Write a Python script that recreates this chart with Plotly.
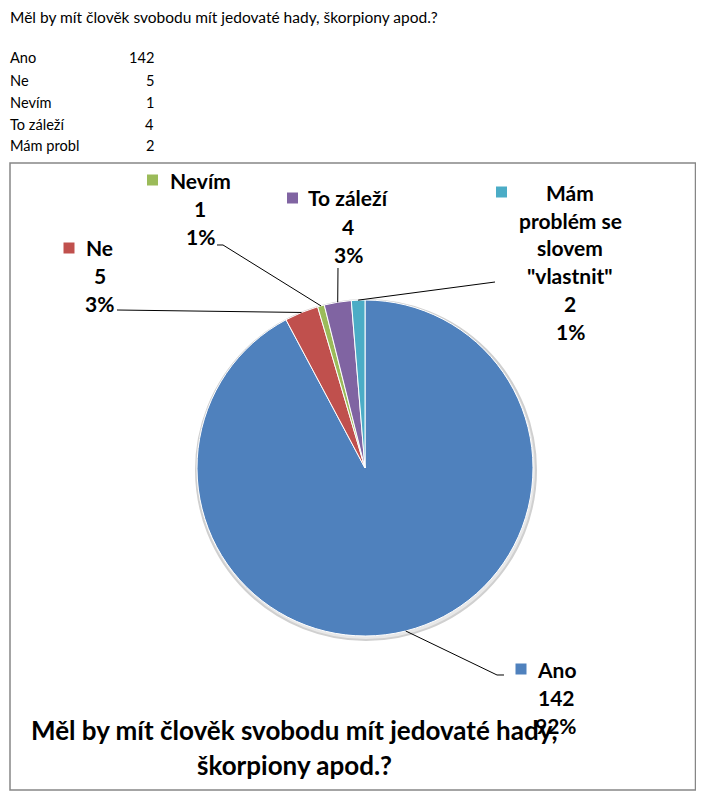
import math
import plotly.graph_objects as go

# ---------------- data ----------------
question = "Měl by mít člověk svobodu mít jedovaté hady, škorpiony apod.?"
table_labels = ["Ano", "Ne", "Nevím", "To záleží", "Mám probl"]
categories = ["Ano", "Ne", "Nevím", "To záleží", "Mám problém se slovem \"vlastnit\""]
values = [142, 5, 1, 4, 2]
label_names = [["Ano"], ["Ne"], ["Nevím"], ["To záleží"],
               ["Mám", "problém se", "slovem", "\"vlastnit\""]]
colors = ["#4F81BD", "#C0504D", "#9BBB59", "#8064A2", "#4BACC6"]
chart_title_lines = ["Měl by mít člověk svobodu mít jedovaté hady,", "škorpiony apod.?"]

# ---------------- layout (page pixel space) ----------------
OFF = 8            # default body margin of the page
FW, FH = 688, 783  # figure size
CX, CY, R = 365, 468, 168
FONT = "Lato"

def px(x):
    return (x - OFF) / FW

def py(y):
    return 1 - (y - OFF) / FH

# label block positions: centre x, first line y, marker x, line spacing
label_pos = [
    (556, 669, 521, 28),
    (100, 248, 69, 27.5),
    (200, 180, 152.5, 28.5),
    (348, 198, 292.5, 28.5),
    (570, 192, 501.5, 28),
]
# leader line start points (label side)
leader_start = [
    [(504, 675), (497, 675)],
    [(117, 310)],
    [(217, 245), (223, 245)],
    [(338, 268)],
    [(495, 282)],
]

total = sum(values)
pcts = [round(v / total * 100) for v in values]

fig = go.Figure()
fig.add_trace(go.Pie(
    labels=categories,
    values=values,
    sort=False,
    direction="clockwise",
    rotation=0,
    marker=dict(colors=colors, line=dict(color="white", width=1)),
    textinfo="none",
    hoverinfo="label+value+percent",
    showlegend=False,
    domain=dict(x=[px(CX - R), px(CX + R)], y=[py(CY + R), py(CY - R)]),
))

annotations = []
shapes = []

# chart area border
shapes.append(dict(type="rect", xref="paper", yref="paper",
                   x0=px(10), x1=px(695.5), y0=py(790), y1=py(163),
                   line=dict(color="#868686", width=1.5), layer="below"))
# soft shadow under the pie
shapes.append(dict(type="circle", xref="paper", yref="paper",
                   x0=px(CX - R - 1), x1=px(CX + R + 3), y0=py(CY + R + 4), y1=py(CY - R),
                   line=dict(color="#d0d0d0", width=2), fillcolor="#e8e8e8", layer="below"))

# top sheet text
annotations.append(dict(text=question, x=px(8), y=py(17), xref="paper", yref="paper",
                        xanchor="left", yanchor="middle", showarrow=False,
                        font=dict(family=FONT, size=15.5, color="black")))
row_y = [58, 80, 102, 124, 146]
for lab, val, yy in zip(table_labels, values, row_y):
    annotations.append(dict(text=lab, x=px(8), y=py(yy), xref="paper", yref="paper",
                            xanchor="left", yanchor="middle", showarrow=False,
                            font=dict(family=FONT, size=14.6, color="black")))
    annotations.append(dict(text=str(val), x=px(155.5), y=py(yy), xref="paper", yref="paper",
                            xanchor="right", yanchor="middle", showarrow=False,
                            font=dict(family=FONT, size=14.6, color="black")))

# data labels with markers and leader lines
cum = 0
for i, v in enumerate(values):
    mid = (cum + v / 2) / total * 2 * math.pi
    cum += v
    ax = CX + R * math.sin(mid)
    ay = CY - R * math.cos(mid)
    cx, y0, mx, sp = label_pos[i]
    lines = label_names[i] + [str(v), f"{pcts[i]}%"]
    for k, t in enumerate(lines):
        annotations.append(dict(text=f"<b>{t}</b>", x=px(cx), y=py(y0 + k * sp),
                                xref="paper", yref="paper",
                                xanchor="center", yanchor="middle", showarrow=False,
                                font=dict(family=FONT, size=21, color="black")))
    shapes.append(dict(type="rect", xref="paper", yref="paper",
                       x0=px(mx - 5.5), x1=px(mx + 5.5), y0=py(y0 + 5.5), y1=py(y0 - 5.5),
                       fillcolor=colors[i], line=dict(width=0)))
    pts = leader_start[i] + [(ax, ay)]
    path = "M " + " L ".join(f"{px(x):.5f},{py(y):.5f}" for x, y in pts)
    shapes.append(dict(type="path", xref="paper", yref="paper", path=path,
                       line=dict(color="black", width=1)))

# chart title at bottom
for k, t in enumerate(chart_title_lines):
    annotations.append(dict(text=f"<b>{t}</b>", x=px(294), y=py(730 + k * 35),
                            xref="paper", yref="paper",
                            xanchor="center", yanchor="middle", showarrow=False,
                            font=dict(family=FONT, size=26, color="black")))

fig.update_layout(
    width=FW, height=FH,
    margin=dict(l=0, r=0, t=0, b=0),
    paper_bgcolor="white",
    plot_bgcolor="white",
    annotations=annotations,
    shapes=shapes,
)

fig.write_html("out.html")
